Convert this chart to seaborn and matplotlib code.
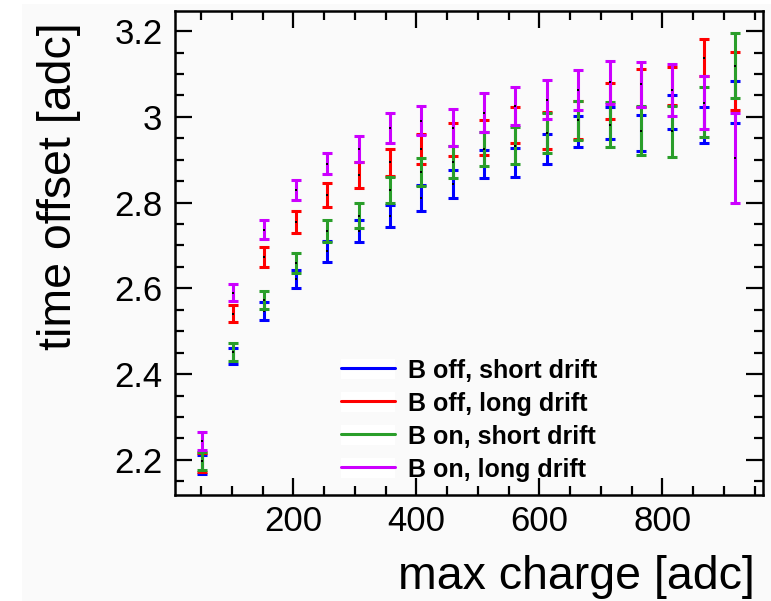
import numpy as np
import pandas as pd
import matplotlib
matplotlib.use("Agg")
import matplotlib.pyplot as plt
from matplotlib.lines import Line2D
from matplotlib.patches import Patch, Rectangle
from matplotlib.legend_handler import HandlerTuple
from matplotlib.ticker import MultipleLocator, FuncFormatter
import seaborn as sns

# bin centres of the max-charge histogram [adc]
max_charge = [51, 102, 153, 204, 255, 306, 357, 408, 459,
              510, 561, 612, 663, 714, 765, 816, 867, 918]

# mean time offset [adc] and its uncertainty per bin
b_off_short = [2.190, 2.442, 2.547, 2.622, 2.686, 2.733, 2.769, 2.810, 2.843,
               2.890, 2.894, 2.925, 2.966, 2.985, 2.962, 3.011, 2.981, 3.034]
b_off_short_err = [0.022, 0.018, 0.021, 0.022, 0.025, 0.026, 0.025, 0.030, 0.032,
                   0.033, 0.034, 0.036, 0.037, 0.037, 0.042, 0.040, 0.041, 0.049]

b_off_long = [2.194, 2.541, 2.674, 2.755, 2.818, 2.865, 2.894, 2.924, 2.947,
              2.952, 2.980, 2.968, 2.993, 3.036, 3.067, 3.072, 3.138, 3.084]
b_off_long_err = [0.023, 0.020, 0.023, 0.025, 0.028, 0.030, 0.031, 0.035, 0.038,
                  0.041, 0.042, 0.044, 0.045, 0.042, 0.044, 0.045, 0.043, 0.068]

b_on_short = [2.198, 2.452, 2.573, 2.660, 2.733, 2.769, 2.829, 2.871, 2.895,
              2.925, 2.933, 2.962, 2.992, 2.982, 2.968, 2.966, 3.012, 3.119]
b_on_short_err = [0.021, 0.021, 0.022, 0.023, 0.026, 0.029, 0.031, 0.033, 0.037,
                  0.040, 0.044, 0.046, 0.046, 0.052, 0.057, 0.059, 0.058, 0.076]

b_on_long = [2.245, 2.590, 2.737, 2.830, 2.891, 2.925, 2.974, 2.991, 2.975,
             3.010, 3.026, 3.040, 3.063, 3.081, 3.076, 3.063, 3.033, 2.903]
b_on_long_err = [0.021, 0.020, 0.022, 0.023, 0.025, 0.030, 0.034, 0.034, 0.043,
                 0.045, 0.044, 0.046, 0.047, 0.050, 0.052, 0.060, 0.062, 0.105]

labels = ["B off, short drift", "B off, long drift",
          "B on, short drift", "B on, long drift"]
colors = ["#0000ff", "#ff0000", "#2a9e2a", "#cc00ff"]

series = [(b_off_short, b_off_short_err), (b_off_long, b_off_long_err),
          (b_on_short, b_on_short_err), (b_on_long, b_on_long_err)]

frames = []
for lab, (vals, errs) in zip(labels, series):
    frames.append(pd.DataFrame({"max_charge": max_charge, "offset": vals,
                                "err": errs, "config": lab}))
df = pd.concat(frames, ignore_index=True)

sns.set_theme(style="ticks")
plt.rcParams["font.family"] = ["Liberation Sans", "DejaVu Sans"]
plt.rcParams.update({"text.color": "black", "axes.labelcolor": "black",
                     "xtick.color": "black", "ytick.color": "black"})
bg = "#fafafa"

fig = plt.figure(figsize=(7.71, 6.01), dpi=100, facecolor=bg)
# thin white margins along the left and top edges
fig.patches.append(Rectangle((0, 0), 22 / 771, 1, transform=fig.transFigure,
                             facecolor="white", edgecolor="none", zorder=-10))
fig.patches.append(Rectangle((0, 1 - 4 / 601), 1, 4 / 601, transform=fig.transFigure,
                             facecolor="white", edgecolor="none", zorder=-10))

ax = fig.add_axes([175 / 771, 106 / 601, 587.7 / 771, 484 / 601])
ax.set_facecolor(bg)

for i, (lab, col) in enumerate(zip(labels, colors)):
    sub = df[df["config"] == lab]
    ax.errorbar(sub["max_charge"], sub["offset"], yerr=sub["err"],
                fmt="none", ecolor=col, elinewidth=2.2, capsize=3.8,
                capthick=2.2, zorder=2 + i)
    sns.scatterplot(data=sub, x="max_charge", y="offset", ax=ax, color="black",
                    marker="s", s=0.6, linewidth=0, legend=False, zorder=2.5 + i)

ax.set_xlim(7.6, 963)
ax.set_ylim(2.118, 3.247)
ax.xaxis.set_major_locator(MultipleLocator(200))
ax.xaxis.set_minor_locator(MultipleLocator(50))
ax.yaxis.set_major_locator(MultipleLocator(0.2))
ax.yaxis.set_minor_locator(MultipleLocator(0.05))
ax.yaxis.set_major_formatter(FuncFormatter(lambda v, p: f"{v:g}"))

for s in ax.spines.values():
    s.set_linewidth(1.8)
    s.set_color("black")
    s.set_visible(True)

ax.tick_params(which="both", direction="in", top=True, right=True,
               color="black", labelcolor="black", width=1.6)
ax.tick_params(which="major", length=12, labelsize=25)
ax.tick_params(which="minor", length=6.5)
ax.tick_params(axis="x", which="major", pad=7)
ax.tick_params(axis="y", which="major", pad=9)

ax.set_xlabel("max charge [adc]", fontsize=33.5, loc="right", color="black")
ax.set_ylabel("time offset [adc]", fontsize=33.5, loc="top", color="black")
ax.xaxis.set_label_coords(0.987, -0.124)
ax.yaxis.set_label_coords(-0.16, 0.977)

handles = [(Patch(facecolor="white", edgecolor="none"),
            Line2D([], [], color=c, lw=2.2)) for c in colors]
leg = ax.legend(handles, labels, handler_map={tuple: HandlerTuple(ndivide=1, pad=0)},
                loc="upper left", bbox_to_anchor=(0.282, 0.282), frameon=False,
                borderpad=0, borderaxespad=0, handlelength=2.16, handleheight=0.86,
                handletextpad=0.52, labelspacing=0.36,
                prop={"size": 18, "weight": "bold"})
for t in leg.get_texts():
    t.set_color("black")

fig.savefig("out.png", dpi=100, facecolor=bg)
